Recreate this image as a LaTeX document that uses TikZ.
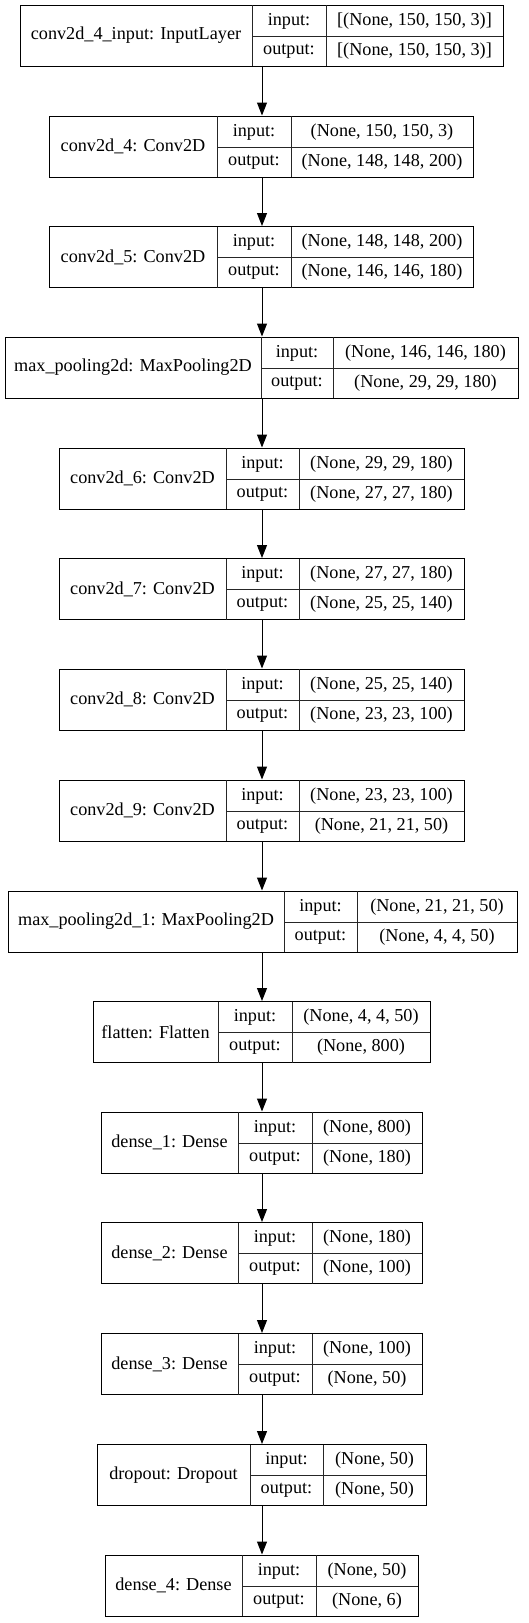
\documentclass[tikz,border=0pt]{standalone}
\usepackage{fontspec}
\setmainfont{Liberation Serif}
\usetikzlibrary{fit,arrows.meta}
\tikzset{
  frame/.style={draw=black, line width=1pt, inner sep=0pt, fill=none},
  divider/.style={draw=black!85, line width=1pt},
  txt/.style={inner sep=0pt, font=\fontsize{18.2}{21}\selectfont, text=black},
  arr/.style={line width=1pt, -{Triangle[width=10pt,length=13pt]}}
}
% #1 name, #2 top, #3 xl, #4 x1, #5 x2, #6 xr, #7 label, #8 in, #9 out
\newcommand\keraslayer[9]{%
  \coordinate (#1-tl) at (#3,#2);
  \coordinate (#1-br) at (#6,{#2+61});
  \node[frame, fit=(#1-tl)(#1-br)] (#1) {};
  \draw[divider] (#4,#2) -- (#4,{#2+61});
  \draw[divider] (#5,#2) -- (#5,{#2+61});
  \draw[divider] (#4,{#2+31}) -- (#6,{#2+31});
  \node[txt] (#1-lab) at ({(#3+#4)/2},{#2+30.5}) {#7};
  \node[txt] (#1-il) at ({(#4+#5)/2},{#2+16}) {input:};
  \node[txt] (#1-ol) at ({(#4+#5)/2},{#2+46}) {output:};
  \node[txt] (#1-iv) at ({(#5+#6)/2},{#2+16}) {#8};
  \node[txt] (#1-ov) at ({(#5+#6)/2},{#2+46}) {#9};
}
\begin{document}
\begin{tikzpicture}[x=1pt,y=-1pt]
\useasboundingbox[fill=white] (0,0) rectangle (529,1623);
\keraslayer{L0}{5}{20}{252}{326}{503}{conv2d\_4\_input: InputLayer}{[(None, 150, 150, 3)]}{[(None, 150, 150, 3)]}
\keraslayer{L1}{116}{49}{217}{291}{473}{conv2d\_4: Conv2D}{(None, 150, 150, 3)}{(None, 148, 148, 200)}
\keraslayer{L2}{226.5}{49}{217}{291}{473}{conv2d\_5: Conv2D}{(None, 148, 148, 200)}{(None, 146, 146, 180)}
\keraslayer{L3}{337}{5}{261}{333}{518}{max\_pooling2d: MaxPooling2D}{(None, 146, 146, 180)}{(None, 29, 29, 180)}
\keraslayer{L4}{448}{59}{226}{299}{464}{conv2d\_6: Conv2D}{(None, 29, 29, 180)}{(None, 27, 27, 180)}
\keraslayer{L5}{558.5}{59}{226}{299}{464}{conv2d\_7: Conv2D}{(None, 27, 27, 180)}{(None, 25, 25, 140)}
\keraslayer{L6}{669}{59}{226}{299}{464}{conv2d\_8: Conv2D}{(None, 25, 25, 140)}{(None, 23, 23, 100)}
\keraslayer{L7}{780}{59}{226}{299}{464}{conv2d\_9: Conv2D}{(None, 23, 23, 100)}{(None, 21, 21, 50)}
\keraslayer{L8}{891}{8}{284}{357}{517}{max\_pooling2d\_1: MaxPooling2D}{(None, 21, 21, 50)}{(None, 4, 4, 50)}
\keraslayer{L9}{1001.5}{93}{218}{292}{430}{flatten: Flatten}{(None, 4, 4, 50)}{(None, 800)}
\keraslayer{L10}{1112}{101}{238}{312}{422}{dense\_1: Dense}{(None, 800)}{(None, 180)}
\keraslayer{L11}{1222.5}{101}{238}{312}{422}{dense\_2: Dense}{(None, 180)}{(None, 100)}
\keraslayer{L12}{1333.5}{101}{238}{312}{422}{dense\_3: Dense}{(None, 100)}{(None, 50)}
\keraslayer{L13}{1444.5}{97}{250}{323}{426}{dropout: Dropout}{(None, 50)}{(None, 50)}
\keraslayer{L14}{1555}{105}{242}{316}{418}{dense\_4: Dense}{(None, 50)}{(None, 6)}
\foreach \a/\b in {L0/L1,L1/L2,L2/L3,L3/L4,L4/L5,L5/L6,L6/L7,L7/L8,L8/L9,L9/L10,L10/L11,L11/L12,L12/L13,L13/L14}{
  \draw[arr] (\a.south -| 262,0) -- (\b.north -| 262,0);
}
\end{tikzpicture}
\end{document}
